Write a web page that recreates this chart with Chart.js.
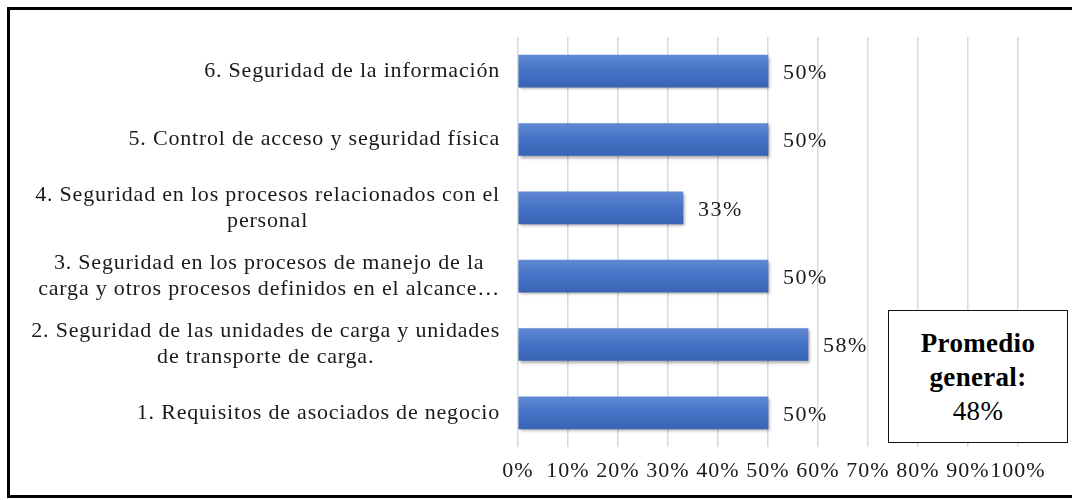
<!DOCTYPE html>
<html>
<head>
<meta charset="utf-8">
<script src="https://cdn.jsdelivr.net/npm/chart.js@4/dist/chart.umd.min.js"></script>
<style>
  body { margin: 0; background: #fff; }
  #wrap { position: relative; width: 1072px; height: 500px; overflow: hidden; }
  #frame { position: absolute; left: 7px; top: 7px; width: 1080px; height: 485px; border: 3px solid #000; box-sizing: content-box; pointer-events: none; }
  #promedio {
    position: absolute; left: 888px; top: 310px; width: 178px; height: 131px;
    border: 1.5px solid #111; background: #fff;
    font-family: "Liberation Serif", "Times New Roman", serif; font-size: 27px; letter-spacing: 0.3px;
    color: #000; text-align: center; display: flex; flex-direction: column; justify-content: center; line-height: 34px;
  }
  #promedio b { font-weight: bold; }
</style>
</head>
<body>
<div id="wrap">
  <canvas id="chart" width="1072" height="500"></canvas>
  <div id="frame"></div>
  <div id="promedio"><b>Promedio</b><b>general:</b><span>48%</span></div>
</div>
<script>
// --- datos ---
const categorias = [
    ['6. Seguridad de la información'],
    ['5. Control de acceso y seguridad física'],
    ['4. Seguridad en los procesos relacionados con el', 'personal'],
    ['3. Seguridad en los procesos de manejo de la', 'carga y otros procesos definidos en el alcance…'],
    ['2. Seguridad de las unidades de carga y unidades', 'de transporte de carga.'],
    ['1. Requisitos de asociados de negocio']
];
const valores = [50, 50, 33, 50, 58, 50];
const ticksX = ['0%', '10%', '20%', '30%', '40%', '50%', '60%', '70%', '80%', '90%', '100%'];

const FUENTE = '"Liberation Serif", "Times New Roman", serif';

// etiquetas de categoría (centradas por bloque) y etiquetas de valor
const etiquetasPlugin = {
    id: 'etiquetas',
    beforeDraw(chart) {
        chart.ctx.letterSpacing = '1px';
    },
    beforeDatasetsDraw(chart) {
        const ctx = chart.ctx;
        ctx.save();
        ctx.shadowColor = 'rgba(0,0,0,0.35)';
        ctx.shadowOffsetX = 2;
        ctx.shadowOffsetY = 2;
        ctx.shadowBlur = 3;
    },
    afterDatasetsDraw(chart) {
        const ctx = chart.ctx;
        ctx.restore();
        const yScale = chart.scales.y;
        const xScale = chart.scales.x;
        ctx.save();
        ctx.fillStyle = '#1a1a1a';
        ctx.textBaseline = 'middle';
        ctx.font = '22px ' + FUENTE;
        ctx.letterSpacing = '0.8px';
        const derecha = 500;
        const alto = 26;
        categorias.forEach((lineas, i) => {
            const yc = yScale.getPixelForValue(i);
            const anchoMax = Math.max(...lineas.map(l => ctx.measureText(l).width));
            const xc = derecha - anchoMax / 2;
            ctx.textAlign = 'center';
            lineas.forEach((l, j) => {
                const y = yc + (j - (lineas.length - 1) / 2) * alto;
                ctx.fillText(l, xc, y);
            });
        });
        ctx.font = '22px ' + FUENTE;
        ctx.letterSpacing = '1.5px';
        ctx.textAlign = 'left';
        valores.forEach((v, i) => {
            ctx.fillText(v + '%', xScale.getPixelForValue(v) + 15, yScale.getPixelForValue(i) + 2);
        });
        ctx.restore();
    }
};

function colorBarra(context) {
    const chart = context.chart;
    const y = chart.scales.y;
    if (!y || context.dataIndex === undefined) return '#4472C4';
    const yc = y.getPixelForValue(context.dataIndex);
    if (!isFinite(yc)) return '#4472C4';
    const g = chart.ctx.createLinearGradient(0, yc - 16, 0, yc + 16);
    g.addColorStop(0, '#5f88d6');
    g.addColorStop(0.5, '#4472C4');
    g.addColorStop(1, '#3a64b6');
    return g;
}

new Chart(document.getElementById('chart'), {
    type: 'bar',
    data: {
        labels: categorias,
        datasets: [{
            data: valores,
            backgroundColor: colorBarra,
            borderWidth: 0,
            barThickness: 32
        }]
    },
    options: {
        indexAxis: 'y',
        responsive: false,
        animation: false,
        layout: { padding: { left: 518, right: 54, top: 37, bottom: 13 } },
        plugins: { legend: { display: false }, tooltip: { enabled: false } },
        scales: {
            x: {
                min: 0, max: 100,
                border: { display: false },
                grid: { color: '#d9d9d9', lineWidth: 1.5, drawTicks: false },
                ticks: {
                    stepSize: 10,
                    padding: 11,
                    color: '#1a1a1a',
                    maxRotation: 0,
                    autoSkip: false,
                    font: { family: FUENTE, size: 22 },
                    callback: (v, i) => ticksX[i]
                },
                afterFit: (s) => { s.height = 40; }
            },
            y: {
                display: false
            }
        }
    },
    plugins: [etiquetasPlugin]
});
</script>
</body>
</html>
